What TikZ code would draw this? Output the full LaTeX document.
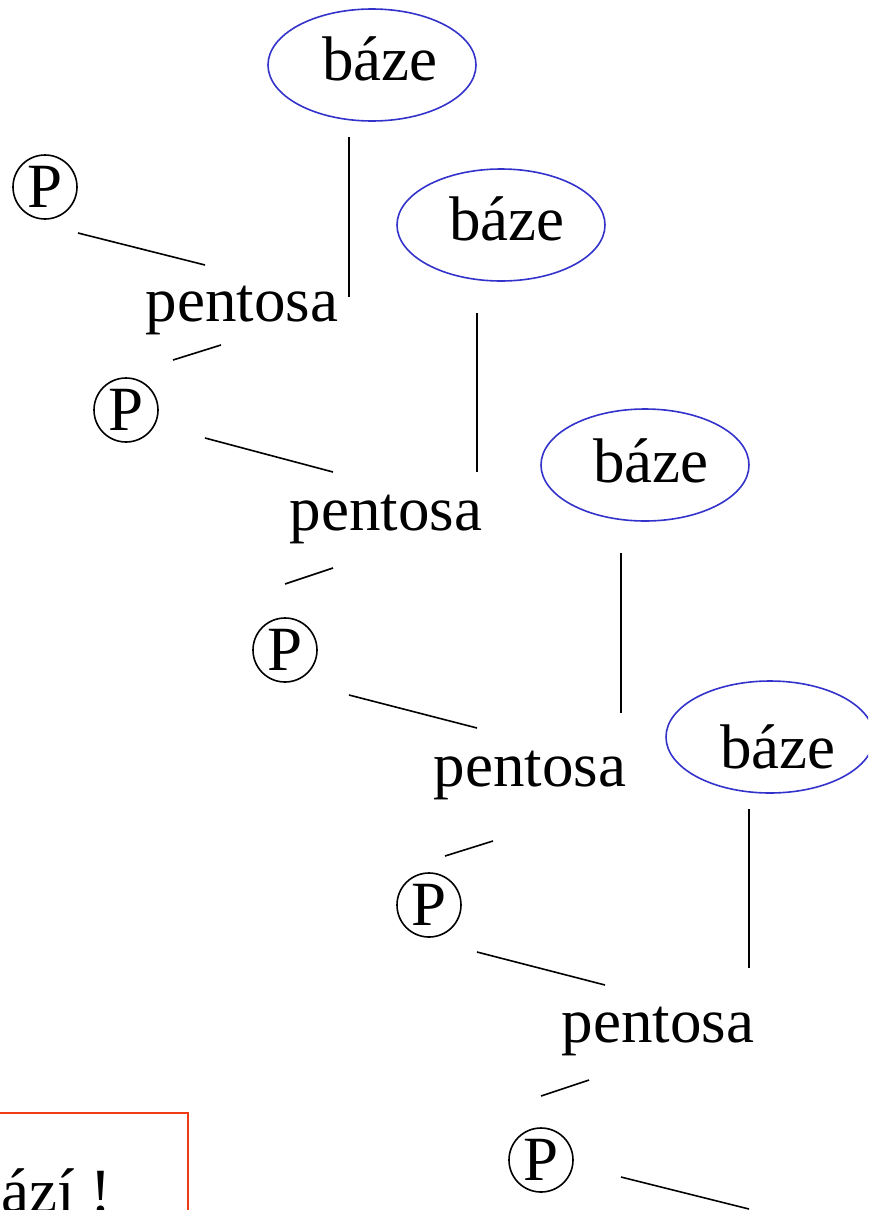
\documentclass[tikz,border=0pt]{standalone}
\usepackage{fontspec}
\setmainfont{Liberation Serif}
\usetikzlibrary{shapes.geometric}
\definecolor{baseblue}{RGB}{51,51,204}
\definecolor{boxred}{RGB}{240,60,20}
\begin{document}
\begin{tikzpicture}[x=1pt,y=-1pt,
  big/.style={font=\fontsize{63}{70}\selectfont, inner sep=0pt},
  basenode/.style={big, ellipse, draw=baseblue, line width=1.6pt, minimum width=208pt, minimum height=112pt},
  pnode/.style={big, circle, draw=black, line width=1.6pt, minimum size=64pt},
  pent/.style={big},
  link/.style={line width=1.6pt, black}]
\useasboundingbox (0,0) rectangle (868,1210);
\begin{scope}
\clip (0,0) rectangle (868,1210);
% bases
\node[basenode] (b1) at (372,65) {};
\node[big, anchor=base] (b1t) at (380,80) {báze};
\node[basenode] (b2) at (501,225) {};
\node[big, anchor=base] (b2t) at (507,240) {báze};
\node[basenode] (b3) at (645,465) {};
\node[big, anchor=base] (b3t) at (651,482) {báze};
\node[basenode] (b4) at (770,737) {};
\node[big, anchor=base] (b4t) at (778,768) {báze};
% pentoses
\node[pent, anchor=base] (s1) at (242,321) {pentosa};
\node[pent, anchor=base] (s2) at (386,530) {pentosa};
\node[pent, anchor=base] (s3) at (530,786) {pentosa};
\node[pent, anchor=base] (s4) at (658,1042) {pentosa};
% phosphates
\node[pnode] (p1) at (45,187) {P};
\node[pnode] (p2) at (126,410) {P};
\node[pnode] (p3) at (285,650) {P};
\node[pnode] (p4) at (429,905) {P};
\node[pnode] (p5) at (541,1160) {P};
% connector end points
\coordinate (v1a) at (349,137); \coordinate (v1b) at (349,297);
\coordinate (v2a) at (477,313); \coordinate (v2b) at (477,472);
\coordinate (v3a) at (621,553); \coordinate (v3b) at (621,713);
\coordinate (v4a) at (749,809); \coordinate (v4b) at (749,968);
\coordinate (d1a) at (78,233);  \coordinate (d1b) at (205,265);
\coordinate (d2a) at (205,438); \coordinate (d2b) at (333,472);
\coordinate (d3a) at (349,695); \coordinate (d3b) at (477,728);
\coordinate (d4a) at (477,952); \coordinate (d4b) at (605,985);
\coordinate (d5a) at (621,1177); \coordinate (d5b) at (749,1209);
\coordinate (u1a) at (173,360); \coordinate (u1b) at (221,345);
\coordinate (u2a) at (285,584); \coordinate (u2b) at (333,568);
\coordinate (u3a) at (445,856); \coordinate (u3b) at (493,841);
\coordinate (u4a) at (541,1096); \coordinate (u4b) at (589,1080);
\foreach \a/\b in {v1a/v1b,v2a/v2b,v3a/v3b,v4a/v4b,d1a/d1b,d2a/d2b,d3a/d3b,d4a/d4b,d5a/d5b,u1a/u1b,u2a/u2b,u3a/u3b,u4a/u4b}
  \draw[link] (\a) -- (\b);
% note box
\draw[draw=boxred, line width=1.6pt] (-20,1113) rectangle (188,1260);
\node[big, anchor=base west] (note) at (-30,1212) {bází !};
\end{scope}
\end{tikzpicture}
\end{document}
